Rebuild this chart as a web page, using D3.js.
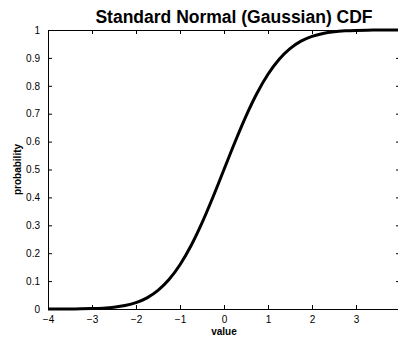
<!DOCTYPE html>
<html>
<head>
	<title>Standard Normal CDF</title>
</head>
<style type="text/css">
	html, body {margin:0px; padding:0px; background:#fff;}
	svg {display:block; font-family: "Liberation Sans", Arial, sans-serif;}
</style>
<body>

	<svg></svg>

<script src="https://d3js.org/d3.v7.min.js"></script>
<script type="text/javascript">

	// values
	const xVals = [-4, -3.75, -3.5, -3.25, -3, -2.75, -2.5, -2.25, -2, -1.75, -1.5, -1.25, -1, -0.75, -0.5, -0.25,
		0, 0.25, 0.5, 0.75, 1, 1.25, 1.5, 1.75, 2, 2.25, 2.5, 2.75, 3, 3.25, 3.5, 3.75, 4];
	const probVals = [0.00003, 0.00009, 0.00023, 0.00058, 0.00135, 0.00298, 0.00621, 0.01222, 0.02275, 0.04006,
		0.06681, 0.10565, 0.15866, 0.22663, 0.30854, 0.40129, 0.5, 0.59871, 0.69146, 0.77337, 0.84134,
		0.89435, 0.93319, 0.95994, 0.97725, 0.98778, 0.99379, 0.99702, 0.99865, 0.99942, 0.99977, 0.99991, 0.99997];
	const xTicks = [-4, -3, -2, -1, 0, 1, 2, 3];
	const yTicks = [0, 0.1, 0.2, 0.3, 0.4, 0.5, 0.6, 0.7, 0.8, 0.9, 1];

	const width = 398, height = 338;
	const mLeft = 48, mRight = 400, mTop = 30, mBottom = 309;

	const svg = d3.select('svg')
		.attr('width', width)
		.attr('height', height);

	let x = d3.scaleLinear().domain([-4, 4]).range([mLeft, mRight]);
	let y = d3.scaleLinear().domain([0, 1]).range([mBottom, mTop]);

	// minus sign like matlab
	const fmtX = d => d < 0 ? '\u2212' + Math.abs(d) : String(d);

	svg.append('g')
		.attr('transform', 'translate(0,' + mBottom + ')')
		.call(d3.axisBottom(x).tickValues(xTicks).tickSizeInner(-4).tickSizeOuter(0).tickPadding(7).tickFormat(fmtX));
	svg.append('g')
		.attr('transform', 'translate(0,' + mTop + ')')
		.call(d3.axisTop(x).tickValues(xTicks).tickSizeInner(-4).tickSizeOuter(0).tickFormat(''));
	svg.append('g')
		.attr('transform', 'translate(' + mLeft + ',0)')
		.call(d3.axisLeft(y).tickValues(yTicks).tickSizeInner(-4).tickSizeOuter(0).tickPadding(8).tickFormat(d3.format('')));
	svg.append('g')
		.attr('transform', 'translate(' + mRight + ',0)')
		.call(d3.axisRight(y).tickValues(yTicks).tickSizeInner(-4).tickSizeOuter(0).tickFormat(''));

	svg.selectAll('.domain').attr('stroke', '#000').attr('stroke-width', 1);
	svg.selectAll('.tick line').attr('stroke', '#000');
	svg.selectAll('.tick text')
		.attr('fill', '#000')
		.attr('font-size', 10)
		.attr('font-family', '"Liberation Sans", Arial, sans-serif');

	let pts = xVals.map((v, i) => [v, probVals[i]]);
	let line = d3.line()
		.x(d => x(d[0]))
		.y(d => y(d[1]))
		.curve(d3.curveMonotoneX);

	svg.append('path')
		.datum(pts)
		.attr('d', line)
		.attr('fill', 'none')
		.attr('stroke', '#000')
		.attr('stroke-width', 3);

	// title and labels
	svg.append('text')
		.attr('x', 234).attr('y', 22.5)
		.attr('text-anchor', 'middle')
		.attr('font-weight', 'bold')
		.attr('font-size', 17.5)
		.text('Standard Normal (Gaussian) CDF');

	svg.append('text')
		.attr('x', x(0)).attr('y', 335)
		.attr('text-anchor', 'middle')
		.attr('font-weight', 'bold')
		.attr('font-size', 10)
		.text('value');

	svg.append('text')
		.attr('transform', 'translate(21,' + y(0.5) + ') rotate(-90)')
		.attr('text-anchor', 'middle')
		.attr('font-weight', 'bold')
		.attr('font-size', 10)
		.text('probability');

</script>
</body>
</html>
